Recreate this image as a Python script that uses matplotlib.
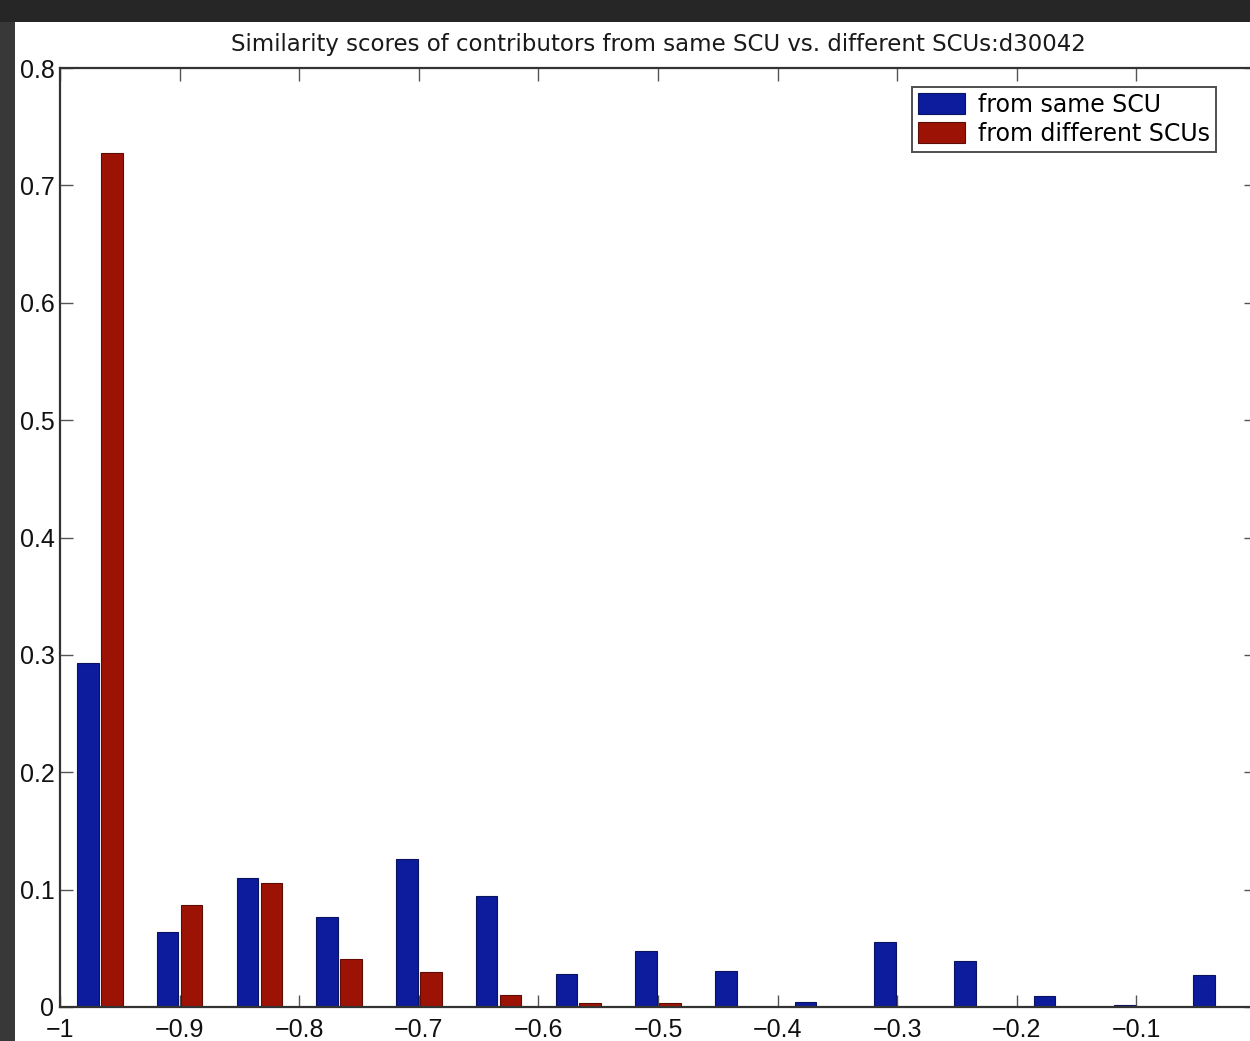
import matplotlib
matplotlib.use("Agg")
import matplotlib.pyplot as plt
from matplotlib.patches import Rectangle

# Histogram bin centres (15 equal bins on [-1, 0])
bin_centers = [-0.9667, -0.9, -0.8333, -0.7667, -0.7, -0.6333, -0.5667,
               -0.5, -0.4333, -0.3667, -0.3, -0.2333, -0.1667, -0.1, -0.0333]

# Relative frequencies
same_scu = [0.293, 0.064, 0.110, 0.077, 0.126, 0.0946, 0.028,
            0.048, 0.031, 0.004, 0.055, 0.039, 0.009, 0.002, 0.027]
diff_scu = [0.7276, 0.087, 0.106, 0.041, 0.030, 0.010, 0.003,
            0.003, 0.0, 0.0, 0.0, 0.0, 0.0, 0.0, 0.0]

series_labels = ["from same SCU", "from different SCUs"]
title = "Similarity scores of contributors from same SCU vs. different SCUs:d30042"
xticks = [-1, -0.9, -0.8, -0.7, -0.6, -0.5, -0.4, -0.3, -0.2, -0.1, 0]
xtick_labels = ["\u22121", "\u22120.9", "\u22120.8", "\u22120.7", "\u22120.6", "\u22120.5",
                "\u22120.4", "\u22120.3", "\u22120.2", "\u22120.1", "0"]
yticks = [0, 0.1, 0.2, 0.3, 0.4, 0.5, 0.6, 0.7, 0.8]
ytick_labels = ["0", "0.1", "0.2", "0.3", "0.4", "0.5", "0.6", "0.7", "0.8"]

plt.rcParams["font.family"] = ["Liberation Sans", "DejaVu Sans"]
wide_font = ["DejaVu Sans"]

W, H = 1250, 1041
fig = plt.figure(figsize=(W / 100, H / 100), dpi=100, facecolor="#262626")

# white figure canvas inside the dark surround
fig.add_artist(Rectangle((15 / W, 0), 1 - 15 / W, 1 - 22 / H,
                         transform=fig.transFigure, facecolor="white",
                         edgecolor="none", zorder=-10))

left, right = 60, 1256
bottom, top = 1007, 68
ax = fig.add_axes([left / W, 1 - bottom / H, (right - left) / W, (bottom - top) / H])
ax.set_zorder(1)
ax.set_facecolor("white")

binw = 1 / 15
bw = 0.27 * binw
off = 0.15 * binw
blue = "#0c1c9c"
red = "#9c1306"
xs_blue = [c - off for c in bin_centers]
xs_red = [c + off for c in bin_centers]
ax.bar(xs_blue, same_scu, width=bw, color=blue, edgecolor="#0a1262",
       linewidth=0.8, label=series_labels[0], zorder=2)
ax.bar(xs_red, diff_scu, width=bw, color=red, edgecolor="#5e0c04",
       linewidth=0.8, label=series_labels[1], zorder=2)

ax.set_xlim(-1, 0)
ax.set_ylim(0, 0.8)
ax.set_xticks(xticks)
ax.set_xticklabels(xtick_labels, family=["Liberation Sans"])
ax.set_yticks(yticks)
ax.set_yticklabels(ytick_labels, family=["Liberation Sans"])
ax.tick_params(direction="in", length=9, width=1.0, color="#555555",
               top=True, right=True, labelsize=18, pad=4, labelcolor="#111111")
ax.tick_params(axis="x", pad=8)
for s in ax.spines.values():
    s.set_color("#333333")
    s.set_linewidth(1.6)

ax.set_title(title, fontsize=16.5, pad=12, color="#1a1a1a", family=wide_font)

leg = ax.legend(loc="upper right", bbox_to_anchor=((1216 - left) / (right - left),
                                                   (bottom - 87) / (bottom - top)),
                prop={"family": wide_font, "size": 17},
                frameon=True, fancybox=False, edgecolor="#222222",
                borderpad=0.25, handlelength=2.0, handleheight=1.0,
                handletextpad=0.55, labelspacing=0.2, borderaxespad=0)
leg.get_frame().set_linewidth(1.4)

# dark strip along the left edge sits above the clipped tick labels
fig.add_artist(Rectangle((0, 0), 15 / W, 1 - 22 / H,
                         transform=fig.transFigure, facecolor="#383838",
                         edgecolor="none", zorder=10))

fig.savefig("out.png", dpi=100, facecolor=fig.get_facecolor())
